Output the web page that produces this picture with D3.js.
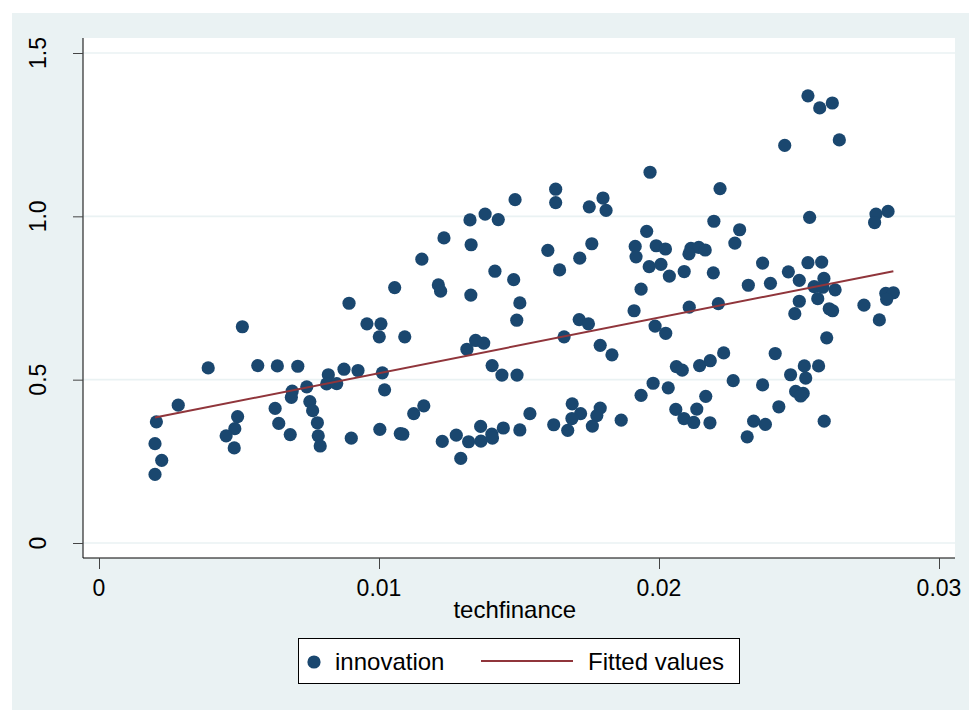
<!DOCTYPE html>
<html>
<head>
<meta charset="utf-8">
<script src="https://cdn.jsdelivr.net/npm/d3@7"></script>
<style>
  body { margin: 0; background: #fff; }
  text { font-family: Arial, "Liberation Sans", sans-serif; fill: #000; }
</style>
</head>
<body>
<svg id="chart"></svg>
<script>
// techfinance (x) and innovation (y)
const techfinance = [
  0.00893,0.00512,0.00390,0.00567,0.00637,0.00710,0.00819,0.00875,0.00925,0.00813,
  0.00849,0.00742,0.00690,0.00687,0.00283,0.00205,0.00495,0.00485,0.00454,0.00483,
  0.00629,0.00642,0.00683,0.00753,0.00763,0.00780,0.00783,0.00790,0.00901,0.00200,
  0.00224,0.00200,0.01631,0.01631,0.01486,0.01325,0.01379,0.01426,0.01232,0.01329,
  0.01153,0.01603,0.01645,0.01414,0.01481,0.01212,0.01220,0.01056,0.01328,0.01503,
  0.01492,0.00957,0.01007,0.01001,0.01092,0.01345,0.01374,0.01314,0.01661,0.01012,
  0.01020,0.01404,0.01439,0.01493,0.01160,0.01124,0.01539,0.01624,0.01003,0.01076,
  0.01085,0.01226,0.01276,0.01320,0.01364,0.01363,0.01403,0.01405,0.01444,0.01503,
  0.01292,0.01968,0.02218,0.01751,0.01800,0.01811,0.02196,0.02288,0.01956,0.01760,
  0.01717,0.01915,0.01918,0.01990,0.02023,0.02114,0.02142,0.02165,0.02107,0.02271,
  0.01965,0.02007,0.02037,0.02090,0.02194,0.02370,0.02319,0.02398,0.01936,0.01911,
  0.02108,0.02212,0.01715,0.01748,0.01986,0.02024,0.01790,0.01832,0.02231,0.02415,
  0.02062,0.02083,0.02145,0.02183,0.01979,0.01936,0.02033,0.02265,0.02370,0.02167,
  0.01690,0.01720,0.01689,0.01790,0.01778,0.01762,0.01674,0.01865,0.02060,0.02089,
  0.02124,0.02135,0.02182,0.02338,0.02380,0.02315,0.02532,0.02574,0.02619,0.02449,
  0.02644,0.02538,0.02775,0.02770,0.02818,0.02462,0.02501,0.02532,0.02581,0.02589,
  0.02554,0.02585,0.02629,0.02567,0.02501,0.02485,0.02608,0.02620,0.02732,0.02787,
  0.02810,0.02837,0.02813,0.02599,0.02519,0.02570,0.02470,0.02524,0.02488,0.02515,
  0.02506,0.02428,0.02590
];

const innovation = [
  0.734,0.662,0.536,0.543,0.542,0.541,0.515,0.532,0.528,0.487,
  0.488,0.478,0.465,0.446,0.422,0.371,0.387,0.350,0.328,0.291,
  0.412,0.366,0.332,0.433,0.405,0.368,0.328,0.297,0.321,0.304,
  0.253,0.210,1.083,1.042,1.051,0.989,1.007,0.990,0.934,0.913,
  0.869,0.896,0.836,0.832,0.806,0.790,0.771,0.782,0.759,0.735,
  0.682,0.671,0.671,0.631,0.631,0.620,0.612,0.593,0.631,0.521,
  0.469,0.543,0.514,0.514,0.420,0.396,0.396,0.362,0.348,0.335,
  0.333,0.311,0.330,0.310,0.312,0.357,0.333,0.321,0.352,0.346,
  0.259,1.135,1.085,1.029,1.056,1.018,0.985,0.959,0.954,0.916,
  0.872,0.908,0.876,0.910,0.900,0.902,0.905,0.897,0.885,0.918,
  0.846,0.853,0.817,0.831,0.827,0.857,0.789,0.795,0.777,0.711,
  0.722,0.733,0.684,0.671,0.664,0.642,0.605,0.576,0.582,0.580,
  0.540,0.529,0.543,0.558,0.489,0.452,0.475,0.497,0.484,0.449,
  0.426,0.396,0.381,0.413,0.390,0.358,0.345,0.376,0.409,0.381,
  0.369,0.410,0.368,0.373,0.363,0.325,1.369,1.332,1.347,1.217,
  1.234,0.997,1.007,0.981,1.015,0.830,0.804,0.858,0.860,0.810,
  0.785,0.783,0.775,0.748,0.740,0.702,0.717,0.711,0.728,0.683,
  0.764,0.766,0.746,0.628,0.542,0.542,0.515,0.505,0.464,0.458,
  0.450,0.417,0.373
];

// fitted line end points
const fitX = [0.00200, 0.02837];
const fitY = [0.384, 0.832];

const xTicks = [0, 0.01, 0.02, 0.03];
const yTicks = [0, 0.5, 1.0, 1.5];
const yTickLabels = ['0', '0.5', '1.0', '1.5'];

const W = 969, H = 711;
const navy = '#1a476f', maroon = '#90353b', panel = '#eaf2f3';

const svg = d3.select('#chart').attr('width', W).attr('height', H);

// outer graph region and plot region
svg.append('rect').attr('x', 12).attr('y', 13).attr('width', W - 12).attr('height', 697).attr('fill', panel);
const plot = { left: 83, right: 955, top: 38, bottom: 558 };
svg.append('rect')
    .attr('x', plot.left).attr('y', plot.top)
    .attr('width', plot.right - plot.left).attr('height', plot.bottom - plot.top)
    .attr('fill', '#fff');

const x = d3.scaleLinear().domain([0, 0.03]).range([99, 939]);
const y = d3.scaleLinear().domain([0, 1.5]).range([543, 53]);

// grid lines
svg.append('g').selectAll('line').data(yTicks).join('line')
    .attr('x1', plot.left).attr('x2', plot.right)
    .attr('y1', d => y(d)).attr('y2', d => y(d))
    .attr('stroke', panel).attr('stroke-width', 1.6);

// y axis
const yAxis = d3.axisLeft(y).tickValues(yTicks).tickSize(10).tickFormat('');
const yg = svg.append('g').attr('transform', `translate(${plot.left},0)`).call(yAxis);
yg.select('.domain').attr('d', `M0,${plot.top}V${plot.bottom}`).attr('stroke', '#000');
yg.selectAll('.tick line').attr('stroke', '#444');
svg.append('g').selectAll('text').data(yTicks).join('text')
    .attr('transform', d => `translate(46,${y(d)}) rotate(-90)`)
    .attr('text-anchor', 'middle')
    .attr('font-size', 23)
    .text((d, i) => yTickLabels[i]);

// x axis
const xAxis = d3.axisBottom(x).tickValues(xTicks).tickSize(11).tickFormat('');
const xg = svg.append('g').attr('transform', `translate(0,${plot.bottom})`).call(xAxis);
xg.select('.domain').attr('d', `M${plot.left},0H${plot.right}`).attr('stroke', '#000');
xg.selectAll('.tick line').attr('stroke', '#444');
svg.append('g').selectAll('text').data(xTicks).join('text')
    .attr('x', d => x(d)).attr('y', 596)
    .attr('text-anchor', 'middle')
    .attr('font-size', 23)
    .text(d => d === 0 ? '0' : d3.format('.2f')(d));

svg.append('text')
    .attr('x', (x(0.0126) + x(0.0171)) / 2).attr('y', 618)
    .attr('text-anchor', 'middle').attr('font-size', 24)
    .text('techfinance');

// scatter points
const points = techfinance.map((v, i) => ({ x: v, y: innovation[i] }));
svg.append('g').selectAll('circle').data(points).join('circle')
    .attr('cx', d => x(d.x)).attr('cy', d => y(d.y))
    .attr('r', 6.6)
    .attr('fill', navy);

// fitted values
svg.append('path')
    .datum(fitX.map((v, i) => [v, fitY[i]]))
    .attr('d', d3.line().x(d => x(d[0])).y(d => y(d[1])))
    .attr('fill', 'none').attr('stroke', maroon).attr('stroke-width', 2);

// legend
const lg = svg.append('g');
lg.append('rect').attr('x', 298.5).attr('y', 638.5).attr('width', 441).attr('height', 45)
    .attr('fill', '#fff').attr('stroke', '#000').attr('stroke-width', 1);
lg.append('circle').attr('cx', 314).attr('cy', 662).attr('r', 6.6).attr('fill', navy);
lg.append('text').attr('x', 335).attr('y', 670).attr('font-size', 24).text('innovation');
lg.append('line').attr('x1', 481).attr('x2', 573).attr('y1', 661).attr('y2', 661)
    .attr('stroke', maroon).attr('stroke-width', 2);
lg.append('text').attr('x', 588).attr('y', 670).attr('font-size', 24).text('Fitted values');
</script>
</body>
</html>
